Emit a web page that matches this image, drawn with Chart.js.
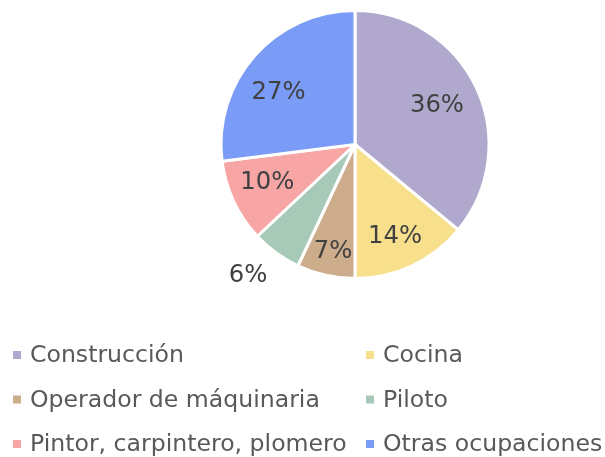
<!DOCTYPE html>
<html>
<head>
<meta charset="utf-8">
<script src="https://cdn.jsdelivr.net/npm/chart.js@4/dist/chart.umd.min.js"></script>
<style>
html,body{margin:0;padding:0;background:#fff;}
#wrap{width:605px;height:457px;position:relative;}
</style>
</head>
<body>
<div id="wrap"><canvas id="c" width="605" height="457"></canvas></div>
<script>
const categories = ["Construcción","Cocina","Operador de máquinaria","Piloto","Pintor, carpintero, plomero","Otras ocupaciones"];
const values = [36,14,7,6,10,27];
const colors = ["#b0a8cd","#f7df8c","#ccac8a","#a6c9b8","#f7a5a5","#7a9cf7"];

// label placement (style): radial fraction and angle nudge in degrees
const labelRadius = [0.68,0.74,0.81,1.255,0.71,0.695];
const labelNudge = [-0.75,1.4,-0.9,3.5,2.5,-6.5];

const sliceLabels = {
  id:'sliceLabels',
  afterDatasetsDraw(chart){
    const ctx = chart.ctx;
    const meta = chart.getDatasetMeta(0);
    const total = chart.data.datasets[0].data.reduce((a,b)=>a+b,0);
    ctx.save();
    ctx.font = '24.3px "DejaVu Sans"';
    ctx.fillStyle = '#404040';
    ctx.textAlign = 'center';
    ctx.textBaseline = 'middle';
    meta.data.forEach((arc,i)=>{
      const p = arc.getProps(['x','y','startAngle','endAngle','outerRadius'],true);
      const mid = (p.startAngle+p.endAngle)/2 + labelNudge[i]*Math.PI/180;
      const r = p.outerRadius*labelRadius[i];
      const v = chart.data.datasets[0].data[i];
      ctx.fillText(Math.round(v/total*100)+'%', p.x+Math.cos(mid)*r, p.y+Math.sin(mid)*r+1);
    });
    ctx.restore();
  }
};

const gridLegend = {
  id:'gridLegend',
  afterDraw(chart){
    const ctx = chart.ctx;
    const colX = [13,366];
    const rowY = [355,399.5,444];
    ctx.save();
    ctx.font = '23.6px "DejaVu Sans"';
    ctx.textBaseline = 'middle';
    ctx.textAlign = 'left';
    chart.data.labels.forEach((lab,i)=>{
      const x = colX[i%2], y = rowY[Math.floor(i/2)];
      ctx.fillStyle = chart.data.datasets[0].backgroundColor[i];
      ctx.fillRect(x, y-4, 8, 8);
      ctx.fillStyle = '#595959';
      ctx.fillText(lab, x+17, y+1);
    });
    ctx.restore();
  }
};

new Chart(document.getElementById('c'),{
  type:'pie',
  data:{
    labels:categories,
    datasets:[{
      data:values,
      backgroundColor:colors,
      borderColor:'#ffffff',
      borderWidth:3
    }]
  },
  options:{
    responsive:false,
    animation:false,
    layout:{padding:{top:8,bottom:457-281,left:219.5,right:605-490.5}},
    plugins:{legend:{display:false},tooltip:{enabled:false}}
  },
  plugins:[sliceLabels,gridLegend]
});
</script>
</body>
</html>
